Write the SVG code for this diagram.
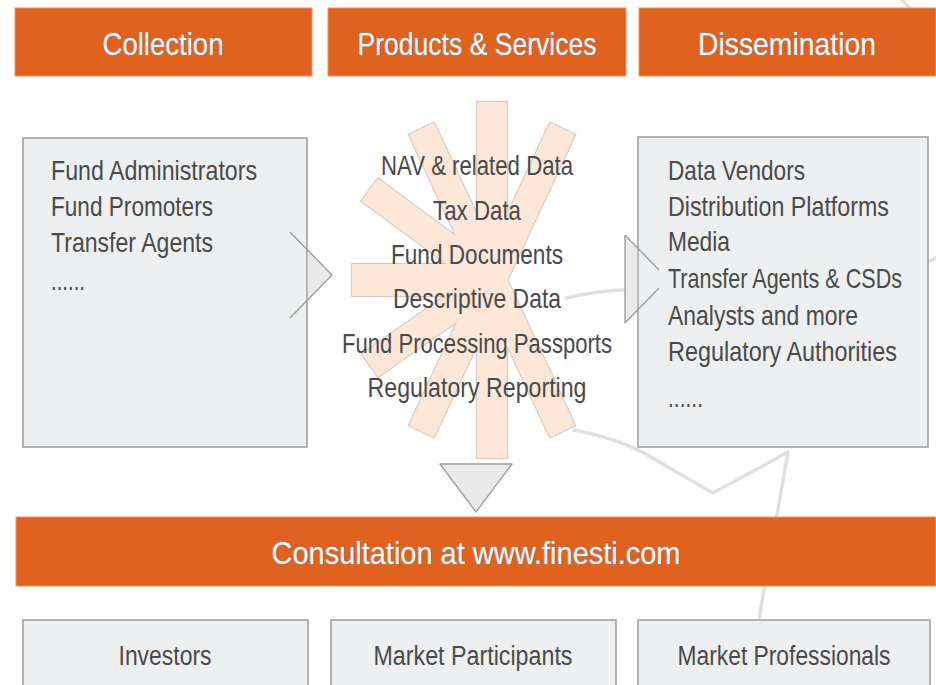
<svg xmlns="http://www.w3.org/2000/svg" width="936" height="685" viewBox="0 0 936 685">
<style>
.bar{fill:#e0621e;stroke:#e3946a;stroke-width:1}
.box{fill:#eeeff0;stroke:#a2a2a2;stroke-width:1.6}
.hd{font-family:"Liberation Sans",Arial,sans-serif;font-size:32px;fill:#f4f4f4;stroke:#8e8e8e;stroke-width:1.1;paint-order:stroke;text-anchor:middle}
.tx{font-family:"Liberation Sans",Arial,sans-serif;font-size:27px;fill:#4a4a4a}
.bt{font-size:28px}
.mid{text-anchor:middle}
.ray{fill:#fce7d9}
.rayo{fill:none;stroke:#d6cbc3;stroke-width:2.2}
.wm{fill:none;stroke:#e0e0e0;stroke-width:3.5;stroke-linecap:round;stroke-linejoin:round}
.chf{fill:#eaeaeb}
.chs{fill:none;stroke:#a0a0a0;stroke-width:1.4;stroke-linejoin:round}
</style>
<rect width="936" height="685" fill="#ffffff"/>
<g id="watermark">
<path class="wm" d="M566,298 Q600,290 628,290"/>
<path class="wm" d="M574,430 Q615,438 642,452 L713,493 L788,452 L760,613 L754,685"/>
<path class="wm" d="M902,0 Q922,20 936,48"/>
<path class="wm" d="M928,262 L936,258"/>
</g>
<g id="star">
<g transform="translate(492,280)">
<g class="rayo">
<rect x="0" y="-15" width="178" height="30" transform="rotate(-90)"/>
<rect x="0" y="-15" width="178" height="30" transform="rotate(90)"/>
<rect x="0" y="-14" width="167" height="28" transform="rotate(-115)"/>
<rect x="0" y="-14" width="167" height="28" transform="rotate(-65)"/>
<rect x="0" y="-14" width="167" height="28" transform="rotate(115)"/>
<rect x="0" y="-14" width="167" height="28" transform="rotate(65)"/>
<rect x="0" y="-14" width="152" height="28" transform="rotate(-143.6)"/>
<rect x="0" y="-14" width="149" height="28" transform="rotate(145)"/>
<rect x="0" y="-16" width="140" height="32" transform="rotate(180)"/>
</g>
<g class="ray">
<rect x="0" y="-15" width="178" height="30" transform="rotate(-90)"/>
<rect x="0" y="-15" width="178" height="30" transform="rotate(90)"/>
<rect x="0" y="-14" width="167" height="28" transform="rotate(-115)"/>
<rect x="0" y="-14" width="167" height="28" transform="rotate(-65)"/>
<rect x="0" y="-14" width="167" height="28" transform="rotate(115)"/>
<rect x="0" y="-14" width="167" height="28" transform="rotate(65)"/>
<rect x="0" y="-14" width="152" height="28" transform="rotate(-143.6)"/>
<rect x="0" y="-14" width="149" height="28" transform="rotate(145)"/>
<rect x="0" y="-16" width="140" height="32" transform="rotate(180)"/>
</g>
</g>
</g>
<g id="collection-header">
<rect class="bar" x="15" y="8" width="297" height="68"/>
<text class="hd" x="163" y="55" textLength="121" lengthAdjust="spacingAndGlyphs">Collection</text>
</g>
<g id="products-header">
<rect class="bar" x="328" y="8" width="298" height="68"/>
<text class="hd" x="477" y="55" textLength="239" lengthAdjust="spacingAndGlyphs">Products &amp; Services</text>
</g>
<g id="dissemination-header">
<rect class="bar" x="639" y="8" width="297" height="68"/>
<text class="hd" x="787" y="55" textLength="178" lengthAdjust="spacingAndGlyphs">Dissemination</text>
</g>
<g id="collection-box">
<rect class="box" x="23" y="138" width="284" height="309"/>
<g transform="translate(51,0) scale(0.8,1)">
<text class="tx" x="0" y="180" textLength="257.5" lengthAdjust="spacingAndGlyphs">Fund Administrators</text>
<text class="tx" x="0" y="216" textLength="202.5" lengthAdjust="spacingAndGlyphs">Fund Promoters</text>
<text class="tx" x="0" y="252" textLength="202.5" lengthAdjust="spacingAndGlyphs">Transfer Agents</text>
<text class="tx" x="0" y="290" textLength="42.5" lengthAdjust="spacingAndGlyphs">......</text>
</g>
</g>
<g id="products-list">
<g transform="translate(477,0) scale(0.8,1)">
<text class="tx mid" x="0" y="175" textLength="240" lengthAdjust="spacingAndGlyphs">NAV &amp; related Data</text>
<text class="tx mid" x="0" y="220" textLength="110" lengthAdjust="spacingAndGlyphs">Tax Data</text>
<text class="tx mid" x="0" y="264" textLength="215" lengthAdjust="spacingAndGlyphs">Fund Documents</text>
<text class="tx mid" x="0" y="308" textLength="210" lengthAdjust="spacingAndGlyphs">Descriptive Data</text>
<text class="tx mid" x="0" y="353" textLength="337.5" lengthAdjust="spacingAndGlyphs">Fund Processing Passports</text>
<text class="tx mid" x="0" y="397" textLength="273.75" lengthAdjust="spacingAndGlyphs">Regulatory Reporting</text>
</g>
</g>
<g id="dissemination-box">
<rect class="box" x="638" y="137" width="290" height="310"/>
<g transform="translate(668,0) scale(0.8,1)">
<text class="tx" x="0" y="180" textLength="171.25" lengthAdjust="spacingAndGlyphs">Data Vendors</text>
<text class="tx" x="0" y="216" textLength="276.25" lengthAdjust="spacingAndGlyphs">Distribution Platforms</text>
<text class="tx" x="0" y="251" textLength="77.5" lengthAdjust="spacingAndGlyphs">Media</text>
<text class="tx" x="0" y="288" textLength="292.5" lengthAdjust="spacingAndGlyphs">Transfer Agents &amp; CSDs</text>
<text class="tx" x="0" y="325" textLength="237.5" lengthAdjust="spacingAndGlyphs">Analysts and more</text>
<text class="tx" x="0" y="361" textLength="286.25" lengthAdjust="spacingAndGlyphs">Regulatory Authorities</text>
<text class="tx" x="0" y="407" textLength="43.75" lengthAdjust="spacingAndGlyphs">......</text>
</g>
</g>
<g id="consultation-bar">
<rect class="bar" x="16" y="517" width="920" height="69"/>
<text class="hd" x="476" y="564" textLength="409" lengthAdjust="spacingAndGlyphs">Consultation at www.finesti.com</text>
</g>
<g id="investors">
<rect class="box" x="23" y="620" width="285" height="80"/>
<text class="tx bt mid" transform="translate(165,0) scale(0.8,1)" x="0" y="665" textLength="116.25" lengthAdjust="spacingAndGlyphs">Investors</text>
</g>
<g id="market-participants">
<rect class="box" x="331" y="620" width="285" height="80"/>
<text class="tx bt mid" transform="translate(473,0) scale(0.8,1)" x="0" y="665" textLength="248.75" lengthAdjust="spacingAndGlyphs">Market Participants</text>
</g>
<g id="market-professionals">
<rect class="box" x="638" y="620" width="292" height="80"/>
<text class="tx bt mid" transform="translate(784,0) scale(0.8,1)" x="0" y="665" textLength="266.25" lengthAdjust="spacingAndGlyphs">Market Professionals</text>
</g>
<g id="connectors">
<polygon class="chf" points="307.8,250.5 332,275 307.8,299.5"/>
<polyline class="chs" points="290,232 332,275 290,318"/>
<polygon class="chf" points="625,235 637.2,247.3 637.2,310.7 625,323"/>
<path class="chs" d="M625,235 L659,270 M659,288 L625,323 M625,235 L625,323"/>
<polygon class="chf" points="440,464 512,464 476,512"/>
<polygon class="chs" points="440,464 512,464 476,512"/>
</g>
</svg>
